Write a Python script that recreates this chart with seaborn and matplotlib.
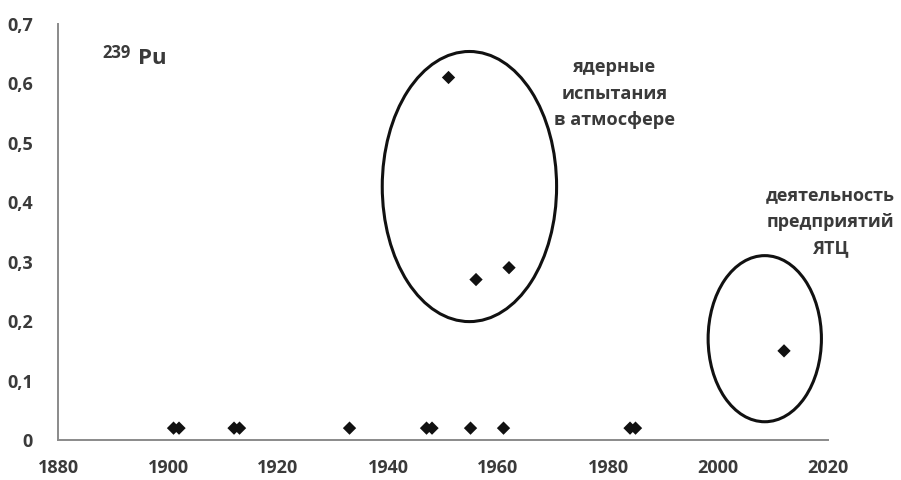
import numpy as np
import pandas as pd
import seaborn as sns
import matplotlib
matplotlib.use("Agg")
import matplotlib.pyplot as plt
from matplotlib.patches import Ellipse

# Sample years and 239Pu activity
years = [1901, 1902, 1912, 1913, 1933, 1947, 1948, 1951, 1955, 1956, 1961, 1962, 1984, 1985, 2012]
pu239 = [0.02, 0.02, 0.02, 0.02, 0.02, 0.02, 0.02, 0.61, 0.02, 0.27, 0.02, 0.29, 0.02, 0.02, 0.15]

x_ticks = [1880, 1900, 1920, 1940, 1960, 1980, 2000, 2020]
y_ticks = [0, 0.1, 0.2, 0.3, 0.4, 0.5, 0.6, 0.7]
y_tick_labels = ["0", "0,1", "0,2", "0,3", "0,4", "0,5", "0,6", "0,7"]

label_tests = "ядерные\nиспытания\nв атмосфере"
label_nfc = "деятельность\nпредприятий\nЯТЦ"

sns.set_style("white")
plt.rcParams["font.family"] = ["Open Sans", "DejaVu Sans"]

df = pd.DataFrame({"year": years, "pu": pu239})

fig = plt.figure(figsize=(9.01, 4.80), dpi=100)
ax = fig.add_axes([0.0644, 0.0833, 0.8546, 0.8667])

sns.scatterplot(data=df, x="year", y="pu", ax=ax, marker="D", s=46,
                color="#111111", edgecolor="none", legend=False, zorder=3)

# Groupings: atmospheric tests and nuclear fuel cycle enterprises
ax.add_patch(Ellipse((1954.8, 0.4265), 31.7, 0.4545, fill=False,
                     edgecolor="#111111", linewidth=2.2, zorder=2))
ax.add_patch(Ellipse((2008.5, 0.1705), 20.6, 0.2795, fill=False,
                     edgecolor="#111111", linewidth=2.2, zorder=2))

txt_color = "#3a3a3a"
ax.text(1981.2, 0.583, label_tests, ha="center", va="center", fontsize=13.1,
        fontweight="bold", color=txt_color, linespacing=1.6)
ax.text(2020.4, 0.367, label_nfc, ha="center", va="center", fontsize=13,
        fontweight="bold", color=txt_color, linespacing=1.6, clip_on=False)

ax.text(1888.0, 0.643, "239", ha="left", va="baseline", fontsize=12,
        fontweight="bold", color=txt_color)
ax.text(1894.5, 0.632, "Pu", ha="left", va="baseline", fontsize=16,
        fontweight="bold", color=txt_color)

ax.set_xlim(1880, 2020)
ax.set_ylim(0, 0.7)
ax.set_xticks(x_ticks)
ax.set_xticklabels([str(t) for t in x_ticks])
ax.set_yticks(y_ticks)
ax.set_yticklabels(y_tick_labels)
ax.set_xlabel("")
ax.set_ylabel("")

for side in ["top", "right"]:
    ax.spines[side].set_visible(False)
for side in ["left", "bottom"]:
    ax.spines[side].set_color("#8a8a8a")
    ax.spines[side].set_linewidth(1.4)

ax.tick_params(axis="x", direction="in", length=8, width=1.2, color="#8a8a8a",
               pad=14, labelsize=13, labelcolor=txt_color)
ax.tick_params(axis="y", length=0, pad=18, labelsize=13, labelcolor=txt_color)
for lbl in ax.get_xticklabels() + ax.get_yticklabels():
    lbl.set_fontweight("bold")

fig.savefig("out.png", dpi=100)
